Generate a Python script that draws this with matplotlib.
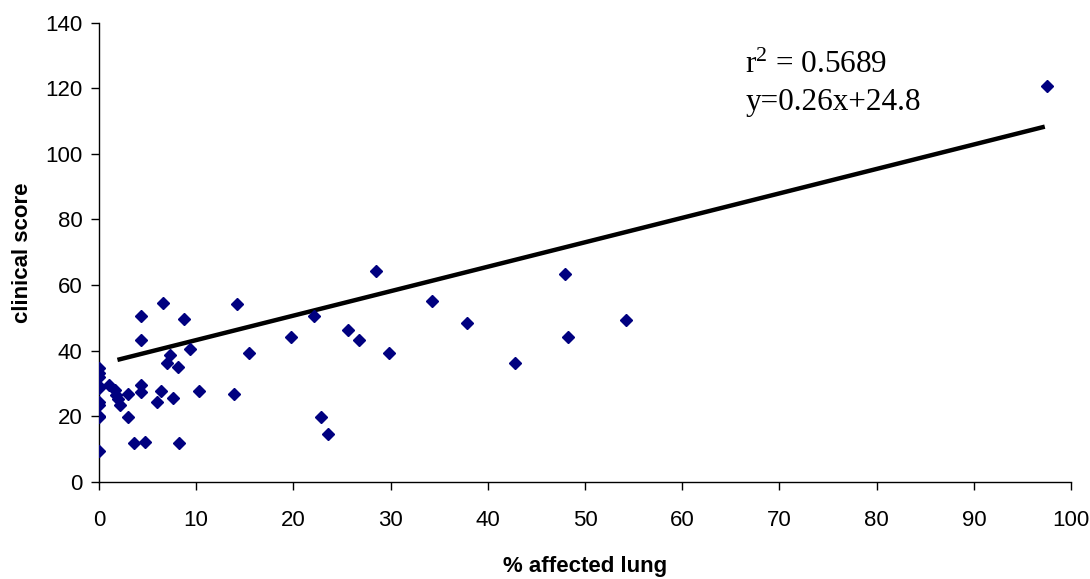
import matplotlib
matplotlib.use("Agg")
import matplotlib.pyplot as plt
import numpy as np

plt.rcParams["mathtext.fontset"] = "custom"
plt.rcParams["mathtext.rm"] = "Liberation Serif"
plt.rcParams["mathtext.it"] = "Liberation Serif:italic"
plt.rcParams["mathtext.bf"] = "Liberation Serif:bold"

# % affected lung (x) and clinical score (y)
affected_lung = [0, 0, 0, 0, 0, 0, 0, 0, 0, 0,
                 1.0, 1.6, 1.8, 2.0, 2.2, 2.95, 2.95, 3.6, 4.7,
                 4.3, 4.3, 4.3, 4.3, 6.55, 8.74, 9.36, 7.3, 6.95, 8.1,
                 6.0, 6.4, 7.65, 10.3, 8.2, 13.9, 14.2, 15.4,
                 19.8, 22.1, 22.8, 23.6, 25.6, 26.7, 28.5, 29.8, 34.3,
                 37.9, 42.8, 47.9, 48.2, 54.2, 97.5]
clinical_score = [34.7, 33.1, 32.1, 29.3, 28.6, 24.5, 23.5, 20.2, 19.7, 9.5,
                  29.6, 28.0, 26.5, 25.2, 23.5, 26.7, 19.9, 11.8, 12.2,
                  50.6, 43.3, 29.6, 27.5, 54.5, 49.6, 40.5, 38.7, 36.2, 35.0,
                  24.5, 27.7, 25.7, 27.7, 12.0, 26.7, 54.3, 39.4,
                  44.1, 50.6, 19.9, 14.5, 46.3, 43.3, 64.3, 39.4, 55.3,
                  48.5, 36.2, 63.4, 44.1, 49.5, 120.8]

# trend line as drawn in the reference
trend_x = [1.9, 97.3]
trend_slope = 0.745
trend_intercept = 35.8

x_ticks = [0, 10, 20, 30, 40, 50, 60, 70, 80, 90, 100]
y_ticks = [0, 20, 40, 60, 80, 100, 120, 140]

fig = plt.figure(figsize=(10.9, 5.79), dpi=100)
ax = fig.add_axes([0.0908, 0.1675, 0.8918, 0.7935])

ax.plot(affected_lung, clinical_score, linestyle="none", marker="D",
        markersize=6, color="#000080", markeredgecolor="#000080", zorder=3)

tx = np.array(trend_x)
ax.plot(tx, trend_slope * tx + trend_intercept, color="black", linewidth=3.2,
        solid_capstyle="butt", zorder=2)

ax.set_xlim(0, 100)
ax.set_ylim(0, 140)
ax.set_xticks(x_ticks)
ax.set_yticks(y_ticks)
ax.tick_params(axis="both", direction="out", length=6, width=1, labelsize=16)
ax.tick_params(axis="x", pad=14)
ax.tick_params(axis="y", pad=6)
for lab in ax.get_xticklabels() + ax.get_yticklabels():
    lab.set_family("Liberation Sans")
for s in ["top", "right"]:
    ax.spines[s].set_visible(False)
for s in ["left", "bottom"]:
    ax.spines[s].set_linewidth(1)

ax.set_xlabel("% affected lung", fontsize=16, fontweight="bold",
              family="Liberation Sans", labelpad=18)
ax.set_ylabel("clinical score", fontsize=16, fontweight="bold",
              family="Liberation Sans", labelpad=8.5)

ax.text(66.5, 124.7, r"r$^2$ = 0.5689", fontsize=22.5,
        family="Liberation Serif", va="baseline", ha="left")
ax.text(66.5, 113.4, "y=0.26x+24.8", fontsize=22.5,
        family="Liberation Serif", va="baseline", ha="left")

fig.savefig("out.png", dpi=100)
